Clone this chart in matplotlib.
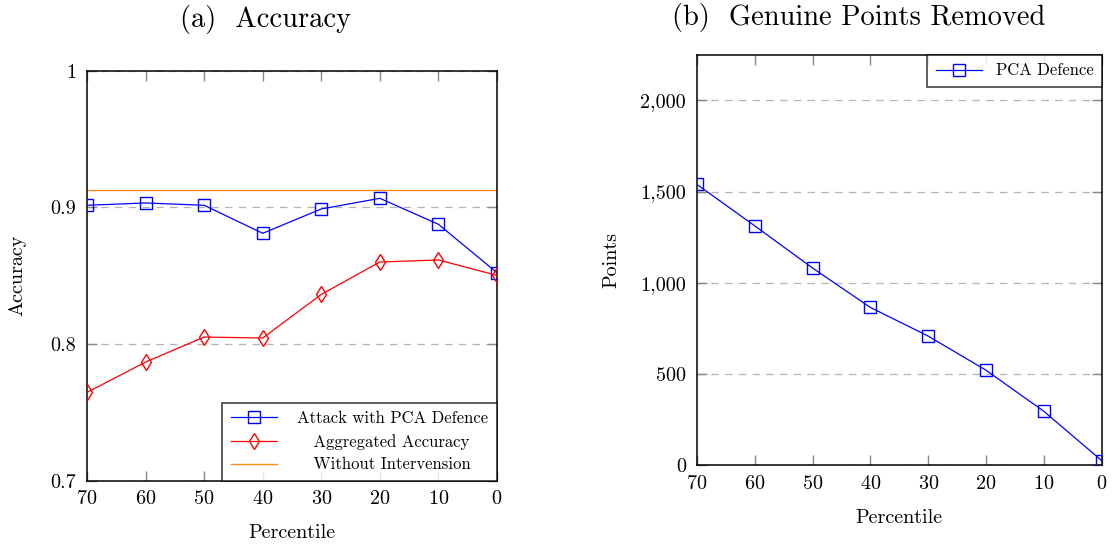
import numpy as np
import matplotlib
matplotlib.use('Agg')
import matplotlib.pyplot as plt
from matplotlib.ticker import FuncFormatter

plt.rcParams['font.family'] = 'cmr10'
plt.rcParams['mathtext.fontset'] = 'cm'
plt.rcParams['axes.formatter.use_mathtext'] = True

# dados
percentile = [70, 60, 50, 40, 30, 20, 10, 0]
acc_pca = [0.9015, 0.9032, 0.9015, 0.881, 0.8988, 0.9066, 0.8876, 0.8522]
acc_aggr = [0.7646, 0.7868, 0.8051, 0.8044, 0.8363, 0.8600, 0.8615, 0.8502]
acc_none = 0.9127
points_removed = [1539, 1312, 1081, 865, 708, 521, 296, 26]

blue = (0, 0, 1)
red = (1, 0, 0)
orange = (1, 0.55, 0.1)
gridc = '#b4b4b4'

fig = plt.figure(figsize=(11.2, 5.46), dpi=100)
ax1 = fig.add_axes([0.0777, 0.1196, 0.366, 0.751])
ax2 = fig.add_axes([0.6223, 0.1478, 0.3613, 0.752])


def style(ax, xl_y, yl_x, ylab):
    ax.set_xlim(70, 0)
    ax.set_xticks(percentile)
    ax.tick_params(direction='in', top=True, right=True, length=7, width=1,
                   color='#888888', labelsize=14.5)
    ax.tick_params(axis='x', pad=7)
    ax.tick_params(axis='y', pad=8)
    ax.yaxis.grid(True, linestyle=(0, (6, 5)), color=gridc, linewidth=0.9)
    ax.set_axisbelow(True)
    for s in ax.spines.values():
        s.set_linewidth(1.1)
    ax.set_xlabel('Percentile', fontsize=14.5, va='center')
    ax.xaxis.set_label_coords(0.5, xl_y)
    ax.set_ylabel(ylab, fontsize=14.5, va='center')
    ax.yaxis.set_label_coords(yl_x, 0.5)


# (a) accuracy
ax1.plot(percentile, acc_pca, color=blue, lw=0.9, marker='s', ms=8.5, mfc='none',
         mew=1.0, label='Attack with PCA Defence', zorder=3)
ax1.plot(percentile, acc_aggr, color=red, lw=0.9, marker='d', ms=8, mfc='none',
         mew=1.0, label='   Aggregated Accuracy', zorder=3)
ax1.axhline(acc_none, color=orange, lw=1.0, label='   Without Intervension', zorder=2)
style(ax1, -0.127, -0.171, 'Accuracy')
ax1.set_ylim(0.7, 1.0)
ax1.set_yticks([0.7, 0.8, 0.9, 1.0])
ax1.yaxis.set_major_formatter(FuncFormatter(lambda v, p: '1' if v == 1.0 else '%.1f' % v))
leg1 = ax1.legend(loc='lower right', fontsize=12, frameon=True, fancybox=False,
                  edgecolor='black', borderaxespad=0, handlelength=2.8,
                  borderpad=0.5, labelspacing=0.45, handletextpad=1.2)
leg1.get_frame().set_linewidth(1.1)

# (b) pontos removidos
ax2.plot(percentile, points_removed, color=blue, lw=0.9, marker='s', ms=8.5, mfc='none',
         mew=1.0, label='PCA Defence', zorder=3)
style(ax2, -0.128, -0.2125, 'Points')
ax2.set_ylim(0, 2250)
ax2.set_yticks([0, 500, 1000, 1500, 2000])
ax2.yaxis.set_major_formatter(FuncFormatter(lambda v, p: '{:,}'.format(int(v))))
leg2 = ax2.legend(loc='upper right', fontsize=12, frameon=True, fancybox=False,
                  edgecolor='black', borderaxespad=0, handlelength=2.8,
                  borderpad=0.5, handletextpad=0.8)
leg2.get_frame().set_linewidth(1.1)

fig.text(266 / 1120, 1 - 20 / 546, '(a)  Accuracy', fontsize=20.5, ha='center', va='center')
fig.text(859 / 1120, 1 - 18 / 546, '(b)  Genuine Points Removed', fontsize=20.5,
         ha='center', va='center')

fig.savefig('out.png', dpi=100)
